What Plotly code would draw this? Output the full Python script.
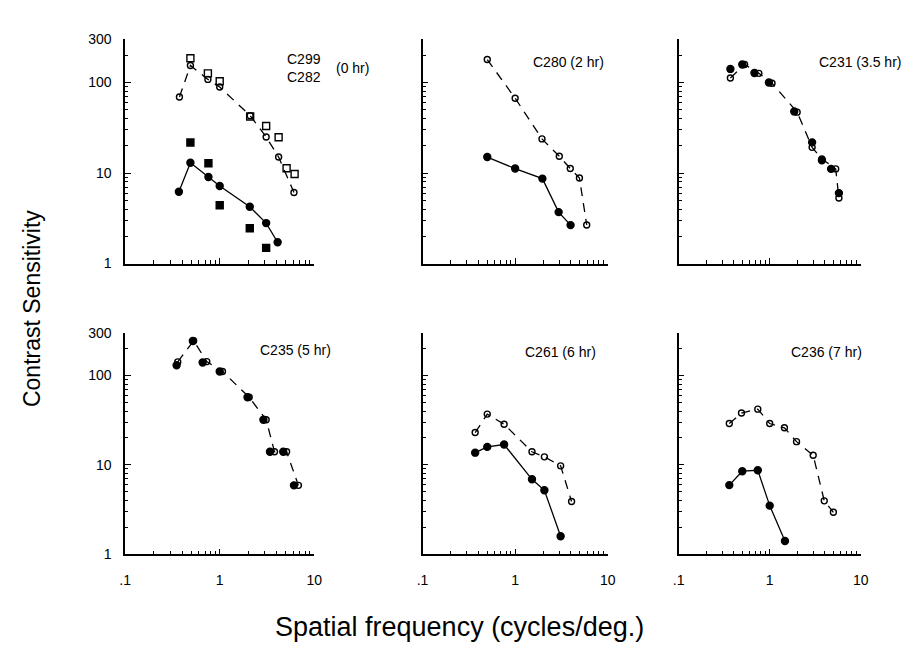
import math
import plotly.graph_objects as go

# ---------------- data (spatial frequency in cycles/deg, contrast sensitivity) ----------------
# Panel 1: C299 / C282 (0 hr)
p1_open_circ_x = [0.375, 0.49, 0.75, 1.0, 2.1, 3.1, 4.2, 6.1]
p1_open_circ_y = [69, 154, 108, 89, 43, 25, 15, 6.1]
p1_open_sq_x = [0.49, 0.75, 1.0, 2.1, 3.1, 4.2, 5.1, 6.2]
p1_open_sq_y = [185, 126, 103, 42, 33, 24.8, 11.3, 9.75]
p1_fill_circ_x = [0.37, 0.49, 0.76, 1.0, 2.08, 3.1, 4.1]
p1_fill_circ_y = [6.2, 13.0, 9.05, 7.2, 4.24, 2.8, 1.72]
p1_fill_sq_x = [0.49, 0.76, 1.0, 2.08, 3.1]
p1_fill_sq_y = [21.7, 12.8, 4.4, 2.46, 1.49]

# Panel 2: C280 (2 hr)
p2_open_x = [0.50, 1.0, 1.95, 3.0, 3.94, 4.95, 5.93]
p2_open_y = [179, 67, 23.8, 15.3, 11.2, 8.8, 2.67]
p2_fill_x = [0.50, 1.0, 1.97, 2.95, 3.97]
p2_fill_y = [15.0, 11.2, 8.67, 3.7, 2.66]

# Panel 3: C231 (3.5 hr)
p3_fill_x = [0.37, 0.50, 0.68, 0.98, 1.86, 2.92, 3.74, 4.72, 5.75]
p3_fill_y = [141, 158, 127, 100, 47.7, 21.8, 13.8, 11.1, 6.0]
p3_open_x = [0.37, 0.53, 0.76, 1.06, 2.0, 2.92, 3.74, 5.3, 5.75]
p3_open_y = [112, 158, 126, 98, 47, 19.2, 14.3, 11.1, 5.3]

# Panel 4: C235 (5 hr)
p4_fill_x = [0.35, 0.52, 0.66, 1.0, 1.97, 2.9, 3.4, 4.7, 6.1]
p4_fill_y = [130, 243, 140, 111, 57, 32, 14, 14, 5.9]
p4_open_x = [0.36, 0.53, 0.73, 1.07, 2.05, 3.1, 3.8, 5.1, 6.8]
p4_open_y = [142, 245, 143, 111, 57, 32, 14, 14, 5.9]

# Panel 5: C261 (6 hr)
p5_open_x = [0.37, 0.50, 0.76, 1.52, 2.07, 3.1, 4.07]
p5_open_y = [23, 37, 28.5, 14.0, 12.3, 9.75, 3.9]
p5_fill_x = [0.37, 0.50, 0.76, 1.52, 2.07, 3.1]
p5_fill_y = [13.7, 15.9, 16.9, 6.9, 5.2, 1.59]

# Panel 6: C236 (7 hr)
p6_open_x = [0.36, 0.49, 0.74, 1.0, 1.45, 1.97, 3.0, 3.97, 5.0]
p6_open_y = [29, 38, 42, 29, 26, 18.2, 12.8, 3.96, 2.95]
p6_fill_x = [0.36, 0.50, 0.74, 1.0, 1.47]
p6_fill_y = [5.94, 8.5, 8.7, 3.5, 1.41]

panel_labels = ["C280 (2 hr)", "C231 (3.5 hr)", "C235 (5 hr)", "C261 (6 hr)", "C236 (7 hr)"]
x_tick_vals = [0.1, 1, 10]
x_tick_text = [".1", "1", "10"]
y_tick_vals = [1, 10, 100, 300]
y_tick_text = ["1", "10", "100", "300"]
x_minor = [0.2, 0.3, 0.4, 0.5, 0.6, 0.7, 0.8, 0.9, 2, 3, 4, 5, 6, 7, 8, 9]
y_minor = [2, 3, 4, 5, 6, 7, 8, 9, 20, 30, 40, 50, 60, 70, 80, 90, 200]

# ---------------- layout geometry ----------------
W, H = 921, 653
cols_px = [(121, 313), (423, 611), (683, 868)]
rows_px = [(262, 32), (560, 333)]  # (pixel of y=1, pixel of y=300)

FONT = "Liberation Sans, Arial, Helvetica, sans-serif"
DASH = "9px,7px"
fig = go.Figure()

def axname(i, kind):
    return kind if i == 1 else f"{kind}{i}"

def add(i, x, y, mode, symbol, size, dash=None):
    marker = dict(symbol=symbol, size=size, color="black",
                  line=dict(color="black", width=1.4))
    tr = go.Scatter(x=x, y=y, mode=mode, marker=marker,
                    xaxis=axname(i, "x"), yaxis=axname(i, "y"),
                    showlegend=False, hoverinfo="x+y")
    if "lines" in mode:
        tr.line = dict(color="black", width=1.3, dash=dash or "solid")
    fig.add_trace(tr)

# panel 1
add(1, p1_open_circ_x, p1_open_circ_y, "lines+markers", "circle-open", 6, dash=DASH)
add(1, p1_open_sq_x, p1_open_sq_y, "markers", "square-open", 7)
add(1, p1_fill_circ_x, p1_fill_circ_y, "lines+markers", "circle", 7)
add(1, p1_fill_sq_x, p1_fill_sq_y, "markers", "square", 7)
# panel 2
add(2, p2_open_x, p2_open_y, "lines+markers", "circle-open", 6, dash=DASH)
add(2, p2_fill_x, p2_fill_y, "lines+markers", "circle", 7)
# panel 3
add(3, p3_open_x, p3_open_y, "lines+markers", "circle-open", 6, dash=DASH)
add(3, p3_fill_x, p3_fill_y, "markers", "circle", 7)
# panel 4
add(4, p4_open_x, p4_open_y, "lines+markers", "circle-open", 6, dash=DASH)
add(4, p4_fill_x, p4_fill_y, "markers", "circle", 7)
# panel 5
add(5, p5_open_x, p5_open_y, "lines+markers", "circle-open", 6, dash=DASH)
add(5, p5_fill_x, p5_fill_y, "lines+markers", "circle", 7)
# panel 6
add(6, p6_open_x, p6_open_y, "lines+markers", "circle-open", 6, dash=DASH)
add(6, p6_fill_x, p6_fill_y, "lines+markers", "circle", 7)

axis_common = dict(type="log", showline=True, linecolor="black", linewidth=1.5,
                   ticks="inside", ticklen=6, tickwidth=1.2, tickcolor="black",
                   showgrid=False, zeroline=False, mirror=False,
                   tickfont=dict(family=FONT, size=14, color="black"),
                   tickmode="array")

layout = {}
for r in range(2):
    for c in range(3):
        i = r * 3 + c + 1
        x0, x1 = cols_px[c]
        yb, yt = rows_px[r]
        xa = dict(axis_common, domain=[x0 / W, x1 / W], range=[-1, 1],
                  anchor=axname(i, "y"), tickvals=x_tick_vals,
                  ticktext=x_tick_text, showticklabels=(r == 1),
                  ticklabelstandoff=12,
                  minor=dict(tickmode="array", tickvals=x_minor, ticks="inside",
                             ticklen=3.5, tickwidth=1, tickcolor="black", showgrid=False))
        ya = dict(axis_common, domain=[(H - yb) / H, (H - yt) / H],
                  range=[0, math.log10(300)], anchor=axname(i, "x"),
                  tickvals=y_tick_vals, ticktext=y_tick_text,
                  showticklabels=(c == 0), ticklabelstandoff=9,
                  minor=dict(tickmode="array", tickvals=y_minor, ticks="inside",
                             ticklen=3.5, tickwidth=1, tickcolor="black", showgrid=False))
        key = "" if i == 1 else str(i)
        layout["xaxis" + key] = xa
        layout["yaxis" + key] = ya

fig.update_layout(**layout)

def px_annot(text, x, y, size=14, **kw):
    fig.add_annotation(text=text, x=x / W, y=(H - y) / H, xref="paper", yref="paper",
                       xanchor="center", yanchor="middle",
                       showarrow=False, font=dict(family=FONT, size=size, color="black"), **kw)

px_annot("C299<br>C282", 303, 61)
px_annot("(0 hr)", 352, 61)
label_pos = [(571, 55), (867, 55), (294, 351), (563, 353), (833, 353)]
for t, (x, y) in zip(panel_labels, label_pos):
    px_annot(t, x, y)

px_annot("Contrast Sensitivity", 27, 308, size=23, textangle=-90)
px_annot("Spatial frequency (cycles/deg.)", 461, 635, size=27)

fig.update_layout(width=W, height=H, margin=dict(l=0, r=0, t=0, b=0),
                  paper_bgcolor="white", plot_bgcolor="white")

fig.write_html("out.html")
